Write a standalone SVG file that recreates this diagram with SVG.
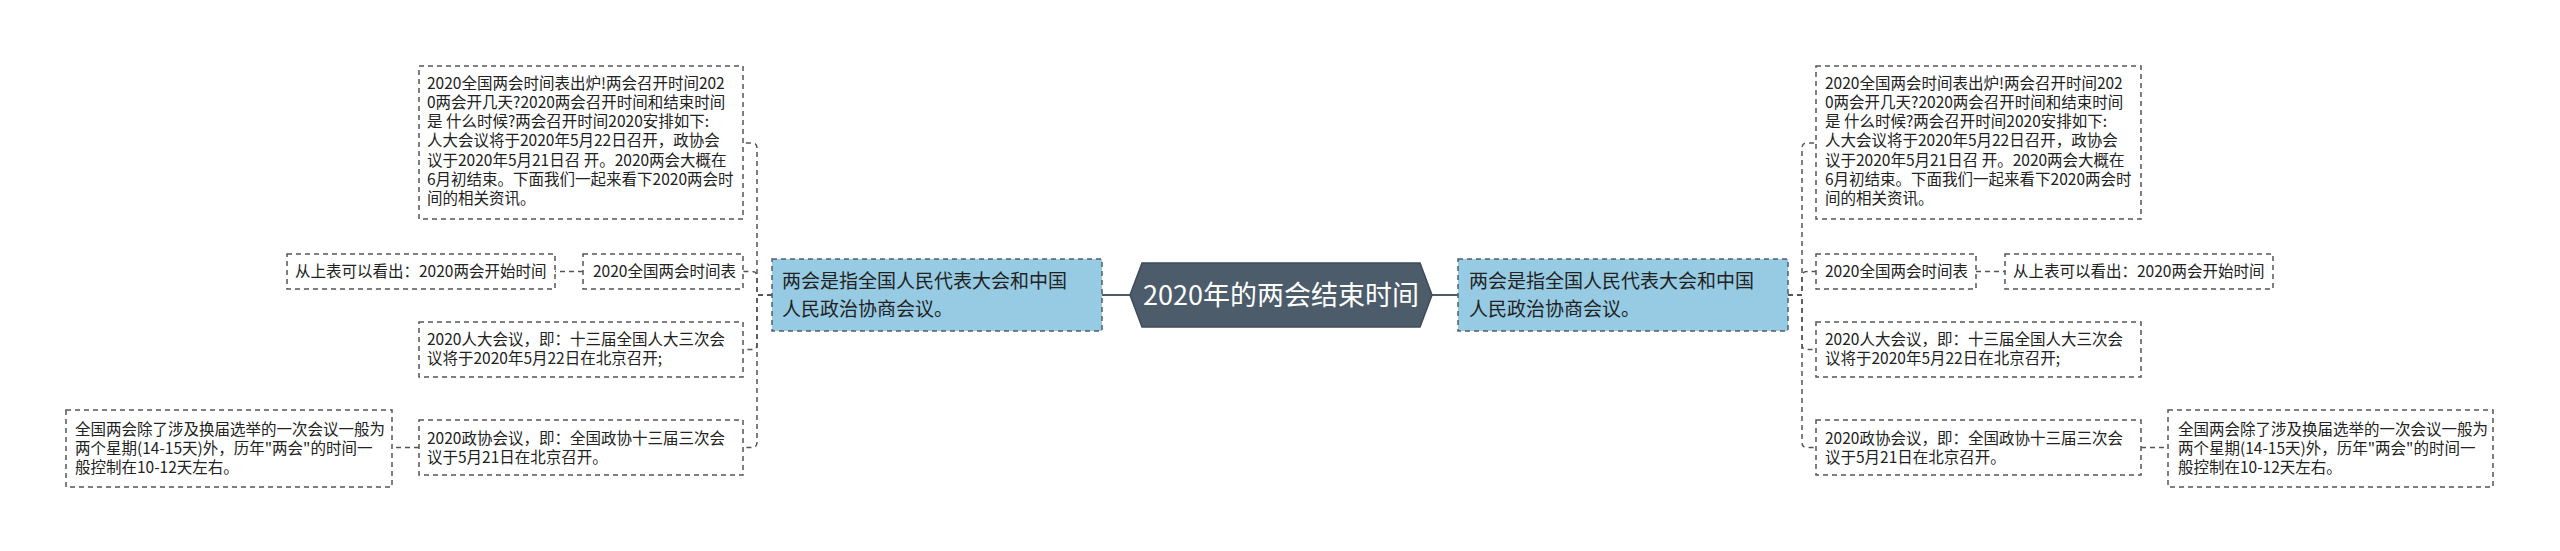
<svg xmlns="http://www.w3.org/2000/svg" width="2560" height="551" viewBox="0 0 2560 551">
<style>
.box{fill:#ffffff;stroke:#555555;stroke-width:1.5;stroke-dasharray:5 4}
.blue{fill:#96cbe3;stroke:#4f5f6e;stroke-width:1.5;stroke-dasharray:5 4}
.hex{fill:#4c5c6b;stroke:#3e4c59;stroke-width:1.5}
.t{font-family:"Noto Sans CJK SC","Noto Sans",sans-serif;font-size:15.5px;fill:#222222}
.bt{font-family:"Noto Sans CJK SC","Noto Sans",sans-serif;font-size:19px;fill:#222222}
.ct{font-family:"Noto Sans CJK SC","Noto Sans",sans-serif;font-size:27px;fill:#ffffff;text-anchor:middle}
.c{fill:none;stroke:#555555;stroke-width:1.5;stroke-dasharray:5 4}
.cs{fill:none;stroke:#4c5c6b;stroke-width:2}
</style>
<rect width="2560" height="551" fill="#ffffff"/>
<g id="connectors">
<path class="cs" d="M1102 295 H1130"/>
<path class="cs" d="M1432 295 H1458"/>
<path class="c" d="M772 295 H757 V148 Q757 143 752 143 H743"/>
<path class="c" d="M772 295 H757 V276.5 Q757 271.5 752 271.5 H743"/>
<path class="c" d="M772 295 H757 V344.5 Q757 349.5 752 349.5 H743"/>
<path class="c" d="M772 295 H757 V442.5 Q757 447.5 752 447.5 H743"/>
<path class="c" d="M583 271.5 H555"/>
<path class="c" d="M419 447.5 H392"/>
<path class="c" d="M1788 295 H1802 V148 Q1802 143 1807 143 H1816"/>
<path class="c" d="M1788 295 H1802 V276.5 Q1802 271.5 1807 271.5 H1816"/>
<path class="c" d="M1788 295 H1802 V344.5 Q1802 349.5 1807 349.5 H1816"/>
<path class="c" d="M1788 295 H1802 V442.5 Q1802 447.5 1807 447.5 H1816"/>
<path class="c" d="M1976 271.5 H2005"/>
<path class="c" d="M2141 447.5 H2168"/>
</g>
<g id="center">
<polygon class="hex" points="1130,295 1142,263 1420,263 1432,295 1420,327 1142,327"/>
<text class="ct" x="1281" y="304.5">2020年的两会结束时间</text>
</g>
<g id="left-main">
<rect class="blue" x="772" y="259" width="330" height="72"/>
<text class="bt" x="782" y="288">两会是指全国人民代表大会和中国</text>
<text class="bt" x="782" y="316">人民政治协商会议。</text>
</g>
<g id="right-main">
<rect class="blue" x="1458" y="259" width="330" height="72"/>
<text class="bt" x="1469" y="288">两会是指全国人民代表大会和中国</text>
<text class="bt" x="1469" y="316">人民政治协商会议。</text>
</g>
<g id="left-intro">
<rect class="box" x="419" y="66" width="324" height="153"/>
<text class="t" x="427" y="89">2020全国两会时间表出炉!两会召开时间202</text>
<text class="t" x="427" y="108">0两会开几天?2020两会召开时间和结束时间</text>
<text class="t" x="427" y="127">是 什么时候?两会召开时间2020安排如下:</text>
<text class="t" x="427" y="146">人大会议将于2020年5月22日召开，政协会</text>
<text class="t" x="427" y="166">议于2020年5月21日召 开。2020两会大概在</text>
<text class="t" x="427" y="185">6月初结束。下面我们一起来看下2020两会时</text>
<text class="t" x="427" y="204">间的相关资讯。</text>
</g>
<g id="left-table">
<rect class="box" x="583" y="254" width="160" height="35"/>
<text class="t" x="593" y="277">2020全国两会时间表</text>
</g>
<g id="left-table-note">
<rect class="box" x="287" y="254" width="268" height="35"/>
<text class="t" x="295" y="277">从上表可以看出：2020两会开始时间</text>
</g>
<g id="left-npc">
<rect class="box" x="419" y="322" width="324" height="55"/>
<text class="t" x="427" y="345">2020人大会议，即：十三届全国人大三次会</text>
<text class="t" x="427" y="364">议将于2020年5月22日在北京召开;</text>
</g>
<g id="left-cppcc">
<rect class="box" x="419" y="420" width="324" height="55"/>
<text class="t" x="427" y="444">2020政协会议，即：全国政协十三届三次会</text>
<text class="t" x="427" y="463">议于5月21日在北京召开。</text>
</g>
<g id="left-duration">
<rect class="box" x="66" y="410" width="326" height="77"/>
<text class="t" x="75" y="435">全国两会除了涉及换届选举的一次会议一般为</text>
<text class="t" x="75" y="454">两个星期(14-15天)外，历年"两会"的时间一</text>
<text class="t" x="75" y="473">般控制在10-12天左右。</text>
</g>
<g id="right-intro">
<rect class="box" x="1816" y="66" width="325" height="153"/>
<text class="t" x="1825" y="89">2020全国两会时间表出炉!两会召开时间202</text>
<text class="t" x="1825" y="108">0两会开几天?2020两会召开时间和结束时间</text>
<text class="t" x="1825" y="127">是 什么时候?两会召开时间2020安排如下:</text>
<text class="t" x="1825" y="146">人大会议将于2020年5月22日召开，政协会</text>
<text class="t" x="1825" y="166">议于2020年5月21日召 开。2020两会大概在</text>
<text class="t" x="1825" y="185">6月初结束。下面我们一起来看下2020两会时</text>
<text class="t" x="1825" y="204">间的相关资讯。</text>
</g>
<g id="right-table">
<rect class="box" x="1816" y="254" width="160" height="35"/>
<text class="t" x="1825" y="277">2020全国两会时间表</text>
</g>
<g id="right-table-note">
<rect class="box" x="2005" y="254" width="268" height="35"/>
<text class="t" x="2013" y="277">从上表可以看出：2020两会开始时间</text>
</g>
<g id="right-npc">
<rect class="box" x="1816" y="322" width="325" height="55"/>
<text class="t" x="1825" y="345">2020人大会议，即：十三届全国人大三次会</text>
<text class="t" x="1825" y="364">议将于2020年5月22日在北京召开;</text>
</g>
<g id="right-cppcc">
<rect class="box" x="1816" y="420" width="325" height="55"/>
<text class="t" x="1825" y="444">2020政协会议，即：全国政协十三届三次会</text>
<text class="t" x="1825" y="463">议于5月21日在北京召开。</text>
</g>
<g id="right-duration">
<rect class="box" x="2168" y="410" width="325" height="77"/>
<text class="t" x="2178" y="435">全国两会除了涉及换届选举的一次会议一般为</text>
<text class="t" x="2178" y="454">两个星期(14-15天)外，历年"两会"的时间一</text>
<text class="t" x="2178" y="473">般控制在10-12天左右。</text>
</g>
</svg>
